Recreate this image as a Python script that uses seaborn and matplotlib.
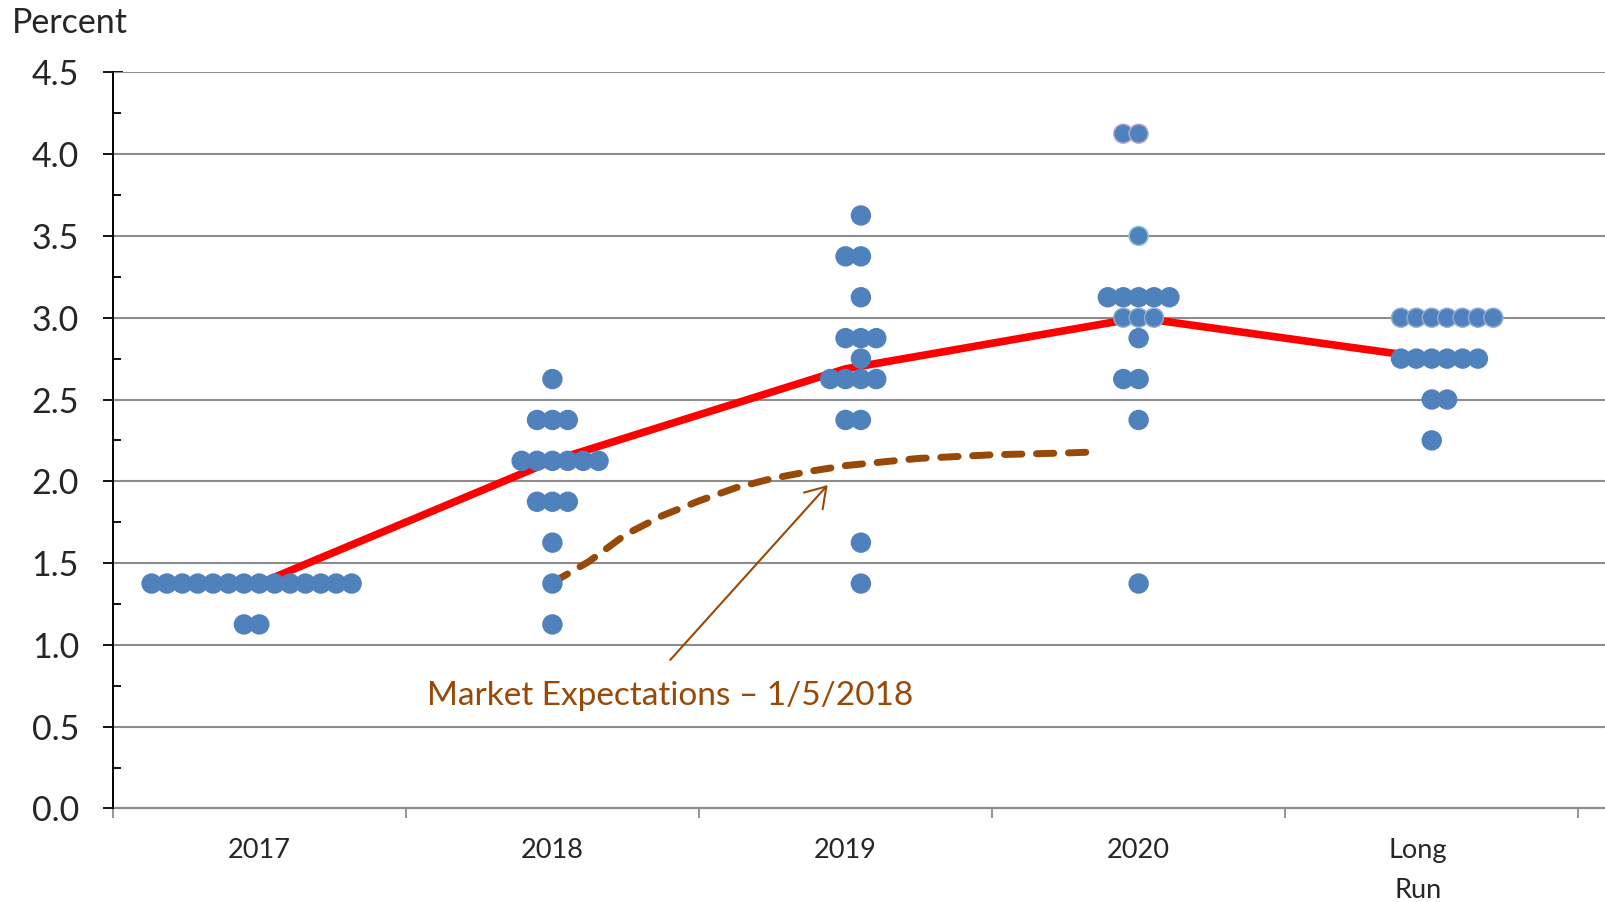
import numpy as np
import pandas as pd
import matplotlib
matplotlib.use("Agg")
import matplotlib.pyplot as plt
import matplotlib.transforms as mtransforms
from matplotlib.ticker import MultipleLocator, FixedLocator, NullFormatter
import seaborn as sns

# ---- data -----------------------------------------------------------------
categories = ["2017", "2018", "2019", "2020", "Long\nRun"]

# FOMC participants' federal funds rate projections: distinct midpoints and number of dots
rates_2017 = [1.375, 1.125]
counts_2017 = [14, 2]
rates_2018 = [2.625, 2.375, 2.125, 1.875, 1.625, 1.375, 1.125]
counts_2018 = [1, 3, 6, 3, 1, 1, 1]
rates_2019 = [3.625, 3.375, 3.125, 2.875, 2.75, 2.625, 2.375, 1.625, 1.375]
counts_2019 = [1, 2, 1, 3, 1, 4, 2, 1, 1]
rates_2020 = [4.125, 3.5, 3.125, 3.0, 2.875, 2.625, 2.375, 1.375]
counts_2020 = [2, 1, 5, 3, 1, 2, 1, 1]
rates_long_run = [3.0, 2.75, 2.5, 2.25]
counts_long_run = [7, 6, 2, 1]

# median projection path
median_rate = [1.375, 2.125, 2.6875, 3.0, 2.75]

# market-implied path (horizontal position in years after the 2017 column)
market_time = [1.0, 1.125, 1.25, 1.375, 1.5, 1.625, 1.75, 1.875, 2.0, 2.25, 2.5, 2.75, 2.83]
market_rate = [1.38, 1.51, 1.675, 1.79, 1.88, 1.96, 2.017, 2.06, 2.096, 2.14, 2.162, 2.173, 2.178]

# ---- dot arrangement (first slot of each row, in dot widths from the column centre)
row_start = [
    [-7, -1],
    [0, -1, -2, -1, 0, 0, 0],
    [1, 0, 1, 0, 1, -1, 0, 1, 1],
    [-1, 0, -2, -1, 0, -1, 0, 0],
    [-2, -2, 0, 0],
]
dot_step = 0.0525

all_rates = [rates_2017, rates_2018, rates_2019, rates_2020, rates_long_run]
all_counts = [counts_2017, counts_2018, counts_2019, counts_2020, counts_long_run]

BLUE = "#4F81BD"
BROWN = "#984807"
GRID = "#8C8C8C"

def edge_for(cat, rate):
    if cat == 3 and rate == 4.125:
        return "#B5A8CB"
    if cat == 3 and rate == 3.5:
        return "#84C6D6"
    if cat in (3, 4) and rate == 3.0:
        return "#8FAAD3"
    return BLUE

rows = []
for ci, (rates, counts, starts) in enumerate(zip(all_rates, all_counts, row_start)):
    for r, n, s0 in zip(rates, counts, starts):
        for k in range(n):
            rows.append({"x": ci + (s0 + k) * dot_step, "rate": r,
                         "edge": edge_for(ci, r)})
dots = pd.DataFrame(rows)

median_df = pd.DataFrame({"x": np.arange(len(categories)), "rate": median_rate})
market_df = pd.DataFrame({"x": market_time, "rate": market_rate})

# ---- figure ---------------------------------------------------------------
sns.set_theme(style="white")
plt.rcParams["font.family"] = ["Lato", "DejaVu Sans"]

fig = plt.figure(figsize=(16.06, 9.02), dpi=100)
ax = fig.add_axes([0.0702, 0.1037, 0.9298, 0.8161])

ax.set_xlim(-0.5, 4.5945)
ax.set_ylim(0, 4.5)

# horizontal grid
for yv in np.arange(0.5, 4.51, 0.5):
    ax.axhline(yv, color=GRID, lw=1.5, zorder=1)

sns.lineplot(data=median_df, x="x", y="rate", ax=ax, color="#FF0000", lw=5.5,
             estimator=None, sort=False, zorder=3, solid_capstyle="butt")
sns.lineplot(data=market_df, x="x", y="rate", ax=ax, color=BROWN, lw=5.0,
             estimator=None, sort=False, zorder=3, dashes=False)
mline = ax.lines[-1]
mline.set_dashes((2.5, 2.1))
mline.set_dash_capstyle("round")

sns.scatterplot(data=dots, x="x", y="rate", ax=ax, s=185, color=BLUE,
                edgecolor=dots["edge"].tolist(), linewidth=1.1, zorder=4)

# annotation for the market path
ax.annotate("", xy=(1.939, 1.977), xytext=(1.402, 0.908),
            arrowprops=dict(arrowstyle="->,head_length=0.7,head_width=0.45",
                            color=BROWN, lw=1.5, mutation_scale=20,
                            shrinkA=0, shrinkB=0), zorder=5)
ax.text(1.402, 0.69, "Market Expectations \u2013 1/5/2018", color=BROWN,
        fontsize=24, ha="center", va="center", zorder=5)

# ---- axes styling ---------------------------------------------------------
for side in ("top", "right"):
    ax.spines[side].set_visible(False)
ax.spines["left"].set_color("black")
ax.spines["left"].set_linewidth(1.4)
ax.spines["left"].set_zorder(6)
ax.spines["bottom"].set_color(GRID)
ax.spines["bottom"].set_linewidth(1.6)

ax.yaxis.set_major_locator(MultipleLocator(0.5))
ax.yaxis.set_minor_locator(MultipleLocator(0.25))
ax.yaxis.set_major_formatter(matplotlib.ticker.FormatStrFormatter("%.1f"))
ax.tick_params(axis="y", which="major", direction="inout", length=14.5,
               width=1.3, color="black", labelsize=24.5, pad=17, left=True)
ax.tick_params(axis="y", which="minor", direction="in", length=6,
               width=1.3, color="black", left=True)

ax.xaxis.set_major_locator(FixedLocator(np.arange(-0.5, 4.6, 1.0)))
ax.xaxis.set_major_formatter(NullFormatter())
ax.xaxis.set_minor_locator(FixedLocator(np.arange(len(categories))))
ax.xaxis.set_minor_formatter(matplotlib.ticker.FixedFormatter(categories))
ax.tick_params(axis="x", which="major", direction="out", length=7.5,
               width=1.3, color=GRID, bottom=True)
ax.tick_params(axis="x", which="minor", length=0, labelsize=19.5, pad=21,
               bottom=True)
for lab in ax.xaxis.get_minorticklabels():
    lab.set_linespacing(1.75)
    if lab.get_text().startswith("Long"):
        lab.set_transform(lab.get_transform() +
                          mtransforms.ScaledTranslation(-14 / 100, 0, fig.dpi_scale_trans))

ax.set_xlabel("")
ax.set_ylabel("")
if ax.get_legend() is not None:
    ax.get_legend().remove()

fig.text(0.0075, 0.975, "Percent", fontsize=24.5, ha="left", va="center")

fig.savefig("out.png", dpi=100, facecolor="white")
